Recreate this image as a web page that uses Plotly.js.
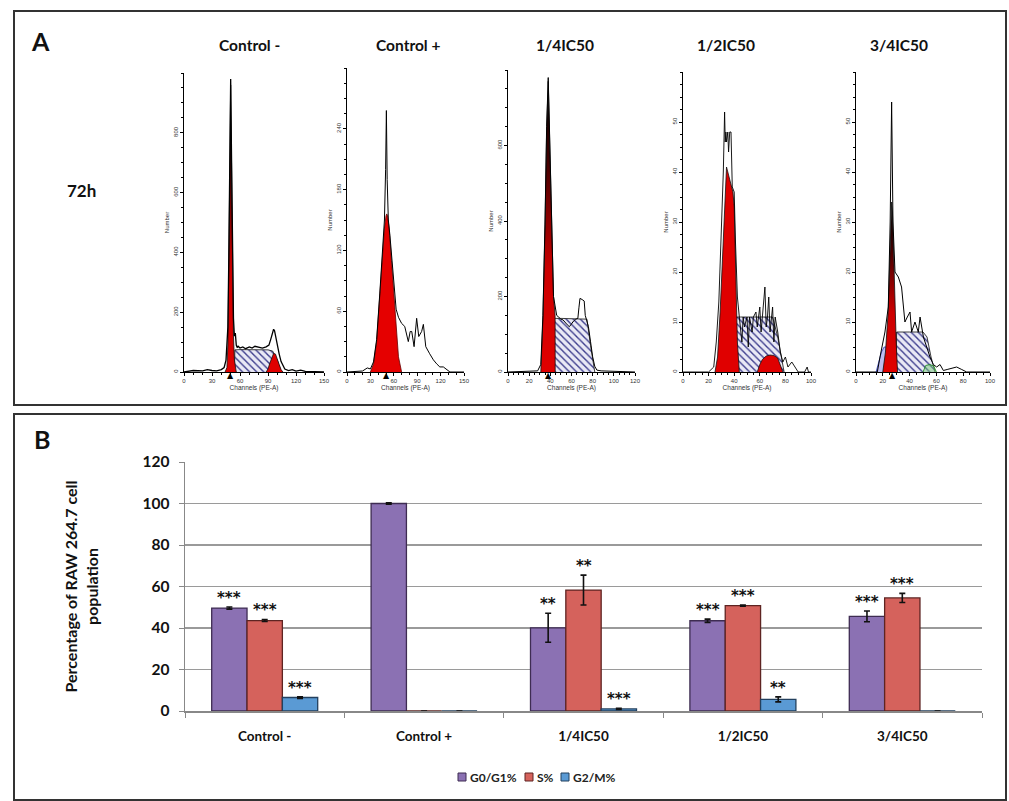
<!DOCTYPE html>
<html><head><meta charset="utf-8">
<script src="https://cdn.plot.ly/plotly-3.0.1.min.js"></script>
<style>html,body{margin:0;padding:0;background:#fff}#chart{width:1009px;height:801px}</style>
</head><body><div id="chart"></div>
<script>
// ---------- Panel B data ----------
const categories = ['Control -', 'Control +', '1/4IC50', '1/2IC50', '3/4IC50'];
const seriesNames = ['G0/G1%', 'S%', 'G2/M%'];
const g1Values = [49.6, 100, 40.1, 43.5, 45.6];
const g1Errors = [0.5, 0.3, 7.0, 0.8, 2.6];
const sValues = [43.6, 0, 58.3, 50.8, 54.5];
const sErrors = [0.5, 0, 7.2, 0.3, 2.2];
const g2Values = [6.5, 0, 1.0, 5.6, 0];
const g2Errors = [0.4, 0, 0.3, 1.2, 0];
const g1Stars = ['***', '', '**', '***', '***'];
const sStars = ['***', '', '**', '***', '***'];
const g2Stars = ['***', '', '***', '**', ''];
const yTickVals = [0, 20, 40, 60, 80, 100, 120];

// ---------- Panel A data (flow cytometry histograms) ----------
const timeLabel = '72h';
const peakChannels = [50, 50, 38, null, 27];
const histYTicks = [[0, 200, 400, 600, 800], [0, 60, 120, 180, 240], [0, 200, 400, 600], [0, 10, 20, 30, 40, 50], [0, 10, 20, 30, 40, 50]];

// Control -
const h1LineX = [0, 5, 10, 20, 25, 30, 35, 40, 43, 45, 47, 48, 49, 50, 51, 52, 53, 54, 55, 56, 57, 58, 60, 63, 66, 70, 73, 76, 80, 84, 88, 91, 93, 95, 96, 97, 98, 100, 102, 104, 106, 108, 112, 116, 120, 125, 130, 140, 150];
const h1LineY = [0, 3, 5, 4, 8, 5, 4, 8, 15, 40, 150, 380, 720, 980, 700, 380, 180, 120, 130, 90, 82, 86, 80, 84, 78, 84, 80, 86, 82, 80, 84, 90, 110, 130, 143, 138, 120, 95, 60, 35, 20, 10, 5, 8, 3, 6, 2, 2, 0];
const h1G1X = [44, 46, 47, 48, 49, 50, 51, 52, 53, 54, 55, 56];
const h1G1Y = [0, 15, 90, 300, 650, 960, 650, 300, 120, 40, 10, 0];
const h1SX = [54, 54.5, 60, 70, 80, 90, 95, 100, 104];
const h1SY = [0, 74, 75, 75, 75, 74, 70, 40, 0];
const h1G2X = [88, 90, 92, 94, 96, 98, 100, 102, 104, 106];
const h1G2Y = [0, 10, 30, 50, 62, 60, 45, 25, 8, 0];

// Control +
const h2LineX = [0, 20, 26, 30, 34, 38, 42, 45, 48, 49.5, 50.5, 51.5, 53, 55, 57, 60, 63, 66, 70, 74, 78.6, 81, 83, 86, 89.3, 92, 95.7, 97.9, 101, 106, 110.7, 115, 119, 123.5, 127.8, 132, 150];
const h2LineY = [0, 1, 4, 3, 10, 32, 77, 112, 150, 200, 258, 190, 150, 135, 115, 85, 62, 54, 48, 45, 30, 40, 40, 25, 53, 35, 40, 47, 25, 18, 12, 8, 5, 5, 2, 0, 0];
const h2G1X = [30, 34, 38, 42, 45, 48, 50, 51, 52, 54, 57, 60, 63, 66, 70];
const h2G1Y = [0, 8, 30, 75, 110, 142, 154, 156, 154, 142, 110, 75, 40, 15, 0];

// 1/4IC50
const h3LineX = [0, 20, 28, 31, 33, 35, 36.5, 38, 39.5, 41, 43, 44.5, 46, 48, 50, 52, 54, 56, 58, 60, 62, 64, 66, 67, 68, 70, 72, 73, 74, 76, 78, 80, 82, 84, 88, 95, 100, 110, 120];
const h3LineY = [0, 1, 3, 20, 150, 400, 650, 780, 600, 380, 200, 175, 150, 145, 140, 138, 130, 125, 120, 128, 135, 140, 142, 170, 195, 192, 188, 150, 140, 120, 80, 40, 15, 5, 3, 2, 3, 1, 0];
const h3G1X = [31, 33, 35, 36.5, 38, 39.5, 41, 43, 44.5, 44.6];
const h3G1Y = [0, 140, 390, 640, 770, 590, 370, 200, 150, 0];
const h3SX = [43.6, 43.7, 50, 60, 70, 74.6, 78, 82];
const h3SY = [0, 142, 142, 142, 142, 140, 70, 0];

// 1/2IC50
const h4LineX = [0, 20, 24, 26, 28, 30, 31.5, 32.5, 33, 33.5, 34, 35, 35.6, 36.5, 37.5, 38.5, 40, 41, 42.5, 44, 46, 47, 48, 50, 51, 52, 54, 55, 57, 58, 60, 61, 62, 64, 65, 66, 67, 68, 70, 71, 72, 74, 76, 78, 80, 82, 85, 90, 95, 97, 98, 100];
const h4LineY = [0, 0, 1, 6, 14, 28, 40, 52, 46, 48, 46, 48, 44, 48, 48, 37, 36, 26, 15, 11, 6, 11, 9, 11, 5, 11, 8, 11, 12, 9, 13, 8, 11, 17, 9, 11, 15, 8, 13, 6, 11, 8, 4, 2, 3, 1, 2, 0, 0, 1, 0, 0];
const h4G1X = [25, 27, 29, 31, 33, 34, 35, 37, 39, 40, 41, 42.5, 44];
const h4G1Y = [0, 3, 12, 25, 37, 41, 40, 38, 36, 33, 20, 6, 0];
const h4SX = [38, 40, 45, 55, 65, 70, 74, 77, 79];
const h4SY = [0, 11, 11, 11, 11, 11, 7, 3, 0];
const h4G2X = [58, 60, 62, 65, 68, 71, 74, 76, 78];
const h4G2Y = [0, 1.5, 2.5, 3.2, 3.4, 3.3, 2.8, 1.5, 0];

// 3/4IC50
const h5LineX = [0, 15.9, 17.9, 21.6, 24.1, 25.5, 26.6, 27.6, 29.1, 31.6, 34, 35.3, 36.5, 38.3, 40.3, 41.5, 44, 46.5, 47.8, 50.3, 52.7, 55.2, 57.7, 60.2, 62.7, 65.2, 68, 71.4, 75.1, 78.9, 82.6, 100];
const h5LineY = [0, 0, 3, 8, 13, 30, 54, 30, 20, 19, 17, 13, 10, 11, 12, 8, 10, 8, 11, 7, 5, 3, 1.5, 1, 1.5, 0.3, 0.5, 0.8, 1, 0.5, 0, 0];
const h5G1X = [20, 22, 24, 25, 26, 26.6, 27.2, 28, 29, 30, 31];
const h5G1Y = [0, 4, 12, 20, 30, 34, 32, 24, 14, 6, 0];
const h5SX = [30, 30.3, 40, 50, 53, 56, 59];
const h5SY = [0, 8, 8, 8, 7, 3, 0];
const h5BlueX = [15, 17, 19, 21, 23, 25, 28, 31, 34, 37, 40];
const h5BlueY = [0, 2, 4, 5, 5, 4, 3, 2.5, 2, 1, 0];
const h5GreenX = [50, 52, 55, 58, 60];
const h5GreenY = [0, 1.3, 1.5, 1.2, 0];

// ---------- build ----------
const W = 1009, H = 801;
const px = v => v / W;
const py = v => 1 - v / H;
const FONT = 'Lato, "Open Sans", "Liberation Sans", sans-serif';
const STARFONT = '"DejaVu Sans", sans-serif';

const traces = [];
const annotations = [];
const shapes = [
  {type: 'rect', xref: 'paper', yref: 'paper', x0: px(14), x1: px(1006), y0: py(405), y1: py(11), line: {color: '#333', width: 2}},
  {type: 'rect', xref: 'paper', yref: 'paper', x0: px(14), x1: px(1006), y0: py(800), y1: py(414), line: {color: '#333', width: 2}}
];
const layout = {
  width: W, height: H, autosize: false,
  margin: {l: 0, r: 0, t: 0, b: 0},
  paper_bgcolor: '#ffffff', plot_bgcolor: 'rgba(0,0,0,0)',
  font: {family: FONT, color: '#222'},
  showlegend: false,
  bargap: 0.335, bargroupgap: 0,
  barmode: 'group',
  shapes: shapes,
  annotations: annotations
};

const hatch = {shape: '\\', fgcolor: '#3b3b8c', bgcolor: '#e9e9f5', size: 5, solidity: 0.28};
const redGrad = {type: 'vertical', colorscale: [[0, '#e00000'], [0.35, '#cc0000'], [0.75, '#3a0000'], [1, '#000000']]};

function fillTrace(n, x, y, opts) {
  return Object.assign({type: 'scatter', mode: 'lines', x: x, y: y, xaxis: 'x' + n, yaxis: 'y' + n,
    fill: 'tozeroy', line: {color: '#111', width: 0.8}, showlegend: false, hoverinfo: 'skip'}, opts);
}

function histAxes(n, xPix, yTopPix, xRange, yRange, xdt, xmin, ymin) {
  layout['xaxis' + n] = {
    domain: [px(xPix[0]), px(xPix[1])], range: xRange, anchor: 'y' + n,
    showline: true, linecolor: '#000', linewidth: 1, ticks: 'outside', ticklen: 3, tickwidth: 1, tickcolor: '#000',
    tick0: 0, dtick: xdt, showgrid: false, zeroline: false,
    tickfont: {family: '"Liberation Sans", sans-serif', size: 6, color: '#333'},
    minor: {dtick: xmin, ticks: 'outside', ticklen: 2, tickcolor: '#000', showgrid: false},
    title: {text: 'Channels (PE-A)', font: {family: '"Liberation Sans", sans-serif', size: 6.5, color: '#333'}, standoff: 1}
  };
  layout['yaxis' + n] = {
    domain: [py(372), py(yTopPix)], range: yRange, anchor: 'x' + n,
    showline: true, linecolor: '#000', linewidth: 1, ticks: 'outside', ticklen: 3, tickwidth: 1, tickcolor: '#000',
    tickvals: histYTicks[n - 1], showgrid: false, zeroline: false, tickangle: -90,
    tickfont: {family: '"Liberation Sans", sans-serif', size: 6, color: '#333'},
    minor: {tick0: 0, dtick: ymin, ticks: 'outside', ticklen: 2, tickcolor: '#000', showgrid: false},
    title: {text: 'Number', font: {family: '"Liberation Sans", sans-serif', size: 6, color: '#333'}, standoff: 2}
  };
}

// Histogram 1: Control -
histAxes(1, [184, 324], 73, [0, 150], [0, 1000], 30, 10, 50);
traces.push(fillTrace(1, h1SX, h1SY, {fillpattern: hatch, fillcolor: '#e9e9f5'}));
traces.push(fillTrace(1, h1G1X, h1G1Y, {fillcolor: '#e00000', fillgradient: redGrad}));
traces.push(fillTrace(1, h1G2X, h1G2Y, {fillcolor: '#e00000'}));
traces.push(fillTrace(1, h1LineX, h1LineY, {fill: 'none', line: {color: '#000', width: 1.3}}));

// Histogram 2: Control +
histAxes(2, [347, 464], 68, [0, 150], [0, 300], 30, 10, 15);
traces.push(fillTrace(2, h2G1X, h2G1Y, {fillcolor: '#e50000', line: {color: '#600', width: 0.8}}));
traces.push(fillTrace(2, h2LineX, h2LineY, {fill: 'none', line: {color: '#000', width: 1}}));

// Histogram 3: 1/4IC50
histAxes(3, [508, 635], 70, [0, 120], [0, 800], 20, 5, 50);
traces.push(fillTrace(3, h3SX, h3SY, {fillpattern: hatch, fillcolor: '#e9e9f5'}));
traces.push(fillTrace(3, h3G1X, h3G1Y, {fillcolor: '#e00000', fillgradient: redGrad}));
traces.push(fillTrace(3, h3LineX, h3LineY, {fill: 'none', line: {color: '#000', width: 1}}));

// Histogram 4: 1/2IC50
histAxes(4, [683, 811], 72, [0, 100], [0, 60], 20, 5, 2.5);
traces.push(fillTrace(4, h4SX, h4SY, {fillpattern: hatch, fillcolor: '#e9e9f5'}));
traces.push(fillTrace(4, h4G1X, h4G1Y, {fillcolor: '#e00000'}));
traces.push(fillTrace(4, h4G2X, h4G2Y, {fillcolor: '#e00000'}));
traces.push(fillTrace(4, h4LineX, h4LineY, {fill: 'none', line: {color: '#000', width: 0.9}}));

// Histogram 5: 3/4IC50
histAxes(5, [856, 990], 72, [0, 100], [0, 60], 20, 5, 2.5);
traces.push(fillTrace(5, h5BlueX, h5BlueY, {fillcolor: 'rgba(110,110,220,0.45)', line: {color: '#2233bb', width: 0.8}}));
traces.push(fillTrace(5, h5SX, h5SY, {fillpattern: hatch, fillcolor: '#e9e9f5'}));
traces.push(fillTrace(5, h5G1X, h5G1Y, {fillcolor: '#e00000', fillgradient: redGrad}));
traces.push(fillTrace(5, h5GreenX, h5GreenY, {fillcolor: 'rgba(120,200,120,0.5)', line: {color: '#118811', width: 0.8}}));
traces.push(fillTrace(5, h5LineX, h5LineY, {fill: 'none', line: {color: '#000', width: 1}}));

// titles of histograms
const titleCenters = [249, 408, 565, 726, 899];
categories.forEach((c, i) => {
  annotations.push({xref: 'paper', yref: 'paper', x: px(titleCenters[i]), y: py(45), text: c, showarrow: false,
    xanchor: 'center', yanchor: 'middle', font: {family: FONT, size: 15.5, weight: 700, color: '#111'}});
  if (peakChannels[i] !== null) {
    annotations.push({xref: 'x' + (i + 1), yref: 'y' + (i + 1), x: peakChannels[i], y: 0, text: '▲', showarrow: false,
      xanchor: 'center', yanchor: 'top', yshift: 3, font: {family: 'DejaVu Sans', size: 8, color: '#000'}});
  }
});
annotations.push({xref: 'paper', yref: 'paper', x: px(40), y: py(41), text: 'A', showarrow: false,
  xanchor: 'center', yanchor: 'middle', font: {family: FONT, size: 25, weight: 700, color: '#111'}});
annotations.push({xref: 'paper', yref: 'paper', x: px(42), y: py(439), text: 'B', showarrow: false,
  xanchor: 'center', yanchor: 'middle', font: {family: FONT, size: 25, weight: 700, color: '#111'}});
annotations.push({xref: 'paper', yref: 'paper', x: px(81), y: py(190), text: timeLabel, showarrow: false,
  xanchor: 'center', yanchor: 'middle', font: {family: FONT, size: 17, weight: 700, color: '#111'}});

// ---------- Panel B ----------
layout.xaxis6 = {
  domain: [px(185), px(982)], anchor: 'y6', type: 'category', categoryorder: 'array', categoryarray: categories,
  showline: true, linecolor: '#888', linewidth: 1.5, ticks: 'outside', tickson: 'boundaries', ticklen: 5, tickcolor: '#888',
  showgrid: false, zeroline: false,
  tickfont: {family: FONT, size: 13.5, weight: 700, color: '#111'}, ticklabelstandoff: 12
};
layout.yaxis6 = {
  domain: [py(711), py(462)], anchor: 'x6', range: [0, 120], tickvals: yTickVals,
  showline: true, linecolor: '#888', linewidth: 1.5, ticks: 'outside', ticklen: 5, tickcolor: '#888',
  showgrid: true, gridcolor: '#9a9a9a', gridwidth: 1.6, zeroline: false,
  tickfont: {family: FONT, size: 15.5, weight: 700, color: '#111'}, ticklabelstandoff: 6,
  title: {text: 'Percentage of RAW 264.7 cell<br>population', font: {family: FONT, size: 16, weight: 700, color: '#111'}, standoff: 40}
};

const barColors = ['#8B71B3', '#D5625C', '#5A9AD4'];
const barLines = ['#3e2c52', '#5e2422', '#23405e'];
const values = [g1Values, sValues, g2Values];
const errors = [g1Errors, sErrors, g2Errors];
const stars = [g1Stars, sStars, g2Stars];
values.forEach((v, k) => {
  traces.push({type: 'bar', name: seriesNames[k], x: categories, y: v, xaxis: 'x6', yaxis: 'y6',
    marker: {color: barColors[k], line: {color: barLines[k], width: 1.3}},
    error_y: {type: 'data', array: errors[k], visible: true, color: '#111', thickness: 1.6, width: 3},
    hoverinfo: 'skip'});
});
const barW = (1 - layout.bargap) / 3;
stars.forEach((arr, k) => {
  arr.forEach((t, i) => {
    if (!t) return;
    annotations.push({xref: 'x6', yref: 'y6', x: i + (k - 1) * barW, y: values[k][i] + errors[k][i], text: t,
      showarrow: false, xanchor: 'center', yanchor: 'bottom', yshift: -2,
      font: {family: STARFONT, size: 15, weight: 700, color: '#111'}});
  });
});

// compact legend (square swatch + bold label), as in the original figure
const legendSwatchX = [462, 529, 565];
const legendY = 777;
seriesNames.forEach((name, k) => {
  shapes.push({type: 'rect', xref: 'paper', yref: 'paper',
    x0: px(legendSwatchX[k] - 4), x1: px(legendSwatchX[k] + 4), y0: py(legendY + 4), y1: py(legendY - 4),
    fillcolor: barColors[k], line: {color: barLines[k], width: 1}});
  annotations.push({xref: 'paper', yref: 'paper', x: px(legendSwatchX[k] + 6), y: py(legendY), text: name,
    showarrow: false, xanchor: 'left', yanchor: 'middle', font: {family: FONT, size: 12, weight: 700, color: '#222'}});
});

Plotly.newPlot('chart', traces, layout, {staticPlot: true, displayModeBar: false});
</script></body></html>
